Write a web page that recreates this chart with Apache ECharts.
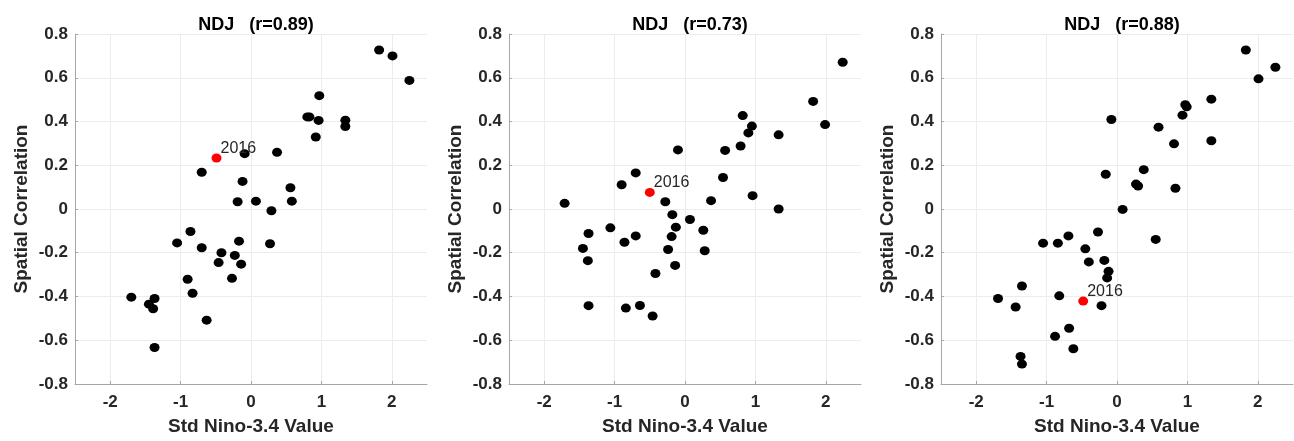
<!DOCTYPE html>
<html>
<head>
<meta charset="utf-8">
<script src="https://cdn.jsdelivr.net/npm/echarts@6/dist/echarts.min.js"></script>
<style>
  html, body { margin: 0; padding: 0; background: #fff; }
  #chart { width: 1294px; height: 441px; }
</style>
</head>
<body>
<div id="chart"></div>
<script>
var titles = ['NDJ   (r=0.89)', 'NDJ   (r=0.73)', 'NDJ   (r=0.88)']
var xTicks = [-2, -1, 0, 1, 2]
var yTicks = [-0.8, -0.6, -0.4, -0.2, 0, 0.2, 0.4, 0.6, 0.8]

// [std nino-3.4, spatial correlation]
var panel1 = [
  [1.82, 0.727], [2.01, 0.700], [2.25, 0.588], [0.97, 0.518], [0.80, 0.421],
  [0.83, 0.421], [0.96, 0.405], [0.92, 0.329], [1.34, 0.406], [1.34, 0.377],
  [-0.09, 0.253], [0.37, 0.259], [-0.70, 0.168], [-0.12, 0.126], [0.56, 0.097],
  [-0.19, 0.033], [0.07, 0.036], [0.58, 0.036], [0.29, -0.008], [-0.86, -0.103],
  [-1.05, -0.155], [-0.70, -0.177], [-0.17, -0.147], [0.27, -0.159], [-0.42, -0.200],
  [-0.23, -0.212], [-0.46, -0.245], [-0.14, -0.252], [-0.90, -0.321], [-0.27, -0.317],
  [-0.83, -0.385], [-1.70, -0.403], [-1.45, -0.435], [-1.37, -0.409], [-1.39, -0.456],
  [-0.63, -0.508], [-1.37, -0.633]
]
var panel2 = [
  [2.24, 0.671], [1.82, 0.492], [1.99, 0.386], [0.82, 0.427], [0.95, 0.379],
  [0.90, 0.348], [1.33, 0.339], [0.79, 0.288], [0.57, 0.268], [-0.10, 0.270],
  [0.54, 0.144], [-0.70, 0.165], [-0.90, 0.111], [-1.71, 0.026], [-0.28, 0.033],
  [0.37, 0.038], [0.96, 0.061], [1.33, 0.000], [-0.18, -0.026], [0.07, -0.048],
  [-0.13, -0.083], [-1.06, -0.086], [0.26, -0.097], [-1.37, -0.112], [-0.70, -0.123],
  [-0.19, -0.126], [-0.86, -0.152], [-1.45, -0.180], [-0.24, -0.185], [0.28, -0.191],
  [-1.38, -0.236], [-0.14, -0.258], [-0.42, -0.295], [-1.37, -0.442], [-0.84, -0.453],
  [-0.64, -0.441], [-0.46, -0.489]
]
var panel3 = [
  [1.83, 0.727], [2.25, 0.648], [2.01, 0.595], [1.34, 0.502], [0.97, 0.477],
  [0.99, 0.467], [0.93, 0.429], [-0.08, 0.409], [0.59, 0.374], [0.81, 0.298],
  [1.34, 0.312], [0.38, 0.180], [-0.16, 0.159], [0.27, 0.114], [0.30, 0.105],
  [0.83, 0.095], [0.08, -0.002], [-0.27, -0.105], [-0.69, -0.123], [-1.05, -0.156],
  [-0.84, -0.156], [0.55, -0.139], [-0.45, -0.182], [-0.40, -0.242], [-0.18, -0.235],
  [-0.12, -0.285], [-0.14, -0.315], [-1.35, -0.352], [-1.69, -0.409], [-0.82, -0.397],
  [-1.44, -0.448], [-0.22, -0.442], [-0.68, -0.545], [-0.88, -0.582], [-0.62, -0.639],
  [-1.37, -0.674], [-1.35, -0.709]
]
var highlight = [[-0.49, 0.233], [-0.50, 0.076], [-0.48, -0.421]]
var highlightLabel = '2016'
var panels = [panel1, panel2, panel3]

var chart = echarts.init(document.getElementById('chart'))
var lefts = [75, 509, 941]
var font = 'Liberation Sans, Arial, sans-serif'
var gridColor = '#ececec'
var axisColor = '#a6a6a6'
var grid = [], xAxis = [], yAxis = [], title = [], series = []

panels.forEach(function (pts, i) {
  grid.push({ left: lefts[i], top: 34, width: 352, height: 351 })
  title.push({
    text: titles[i],
    left: lefts[i] + 176,
    top: 11,
    textAlign: 'center',
    textStyle: { fontFamily: font, fontSize: 18, fontWeight: 'bold', color: '#000' }
  })
  xAxis.push({
    gridIndex: i,
    type: 'value',
    min: -2.5, max: 2.5,
    name: 'Std Nino-3.4 Value',
    nameLocation: 'middle',
    nameGap: 33,
    nameTextStyle: { fontFamily: font, fontSize: 19, fontWeight: 'bold', color: '#262626' },
    axisLine: { onZero: false, lineStyle: { color: axisColor, width: 1 } },
    axisTick: { show: true, inside: true, length: 3, customValues: xTicks, lineStyle: { color: axisColor } },
    axisLabel: {
      customValues: xTicks,
      fontFamily: font, fontSize: 17, fontWeight: 'bold', color: '#262626', margin: 10
    },
    splitLine: { show: false }
  })
  yAxis.push({
    gridIndex: i,
    type: 'value',
    min: -0.8, max: 0.8,
    interval: 0.2,
    name: 'Spatial Correlation',
    nameLocation: 'middle',
    nameGap: 44,
    nameTextStyle: { fontFamily: font, fontSize: 19, fontWeight: 'bold', color: '#262626' },
    axisLine: { show: true, onZero: false, lineStyle: { color: axisColor, width: 1 } },
    axisTick: { show: true, inside: true, length: 3, lineStyle: { color: axisColor } },
    axisLabel: {
      fontFamily: font, fontSize: 17, fontWeight: 'bold', color: '#262626', margin: 7,
      formatter: function (v) {
        var r = Math.round(v * 10) / 10
        return r === 0 ? '0' : r.toFixed(1)
      }
    },
    splitLine: { show: true, lineStyle: { color: gridColor, width: 1 } }
  })
  // vertical grid lines at the integer ticks only
  series.push({
    type: 'scatter',
    xAxisIndex: i, yAxisIndex: i,
    data: [],
    silent: true,
    z: 0,
    markLine: {
      silent: true,
      z: 0,
      symbol: 'none',
      label: { show: false },
      animation: false,
      lineStyle: { color: gridColor, width: 1, type: 'solid' },
      data: xTicks.map(function (v) { return { xAxis: v } })
    }
  })
  series.push({
    type: 'scatter',
    xAxisIndex: i, yAxisIndex: i,
    data: pts,
    symbolSize: [10, 9],
    itemStyle: { color: '#000', opacity: 1 },
    silent: true,
    z: 3
  })
  series.push({
    type: 'scatter',
    xAxisIndex: i, yAxisIndex: i,
    data: [highlight[i]],
    symbolSize: [10, 9],
    itemStyle: { color: '#ff0000', opacity: 1 },
    label: {
      show: true,
      formatter: highlightLabel,
      position: [9, -5],
      align: 'left',
      verticalAlign: 'middle',
      fontFamily: font,
      fontSize: 16,
      color: '#262626'
    },
    silent: true,
    z: 4
  })
})

chart.setOption({
  animation: false,
  backgroundColor: '#fff',
  title: title,
  grid: grid,
  xAxis: xAxis,
  yAxis: yAxis,
  series: series
})
</script>
</body>
</html>
